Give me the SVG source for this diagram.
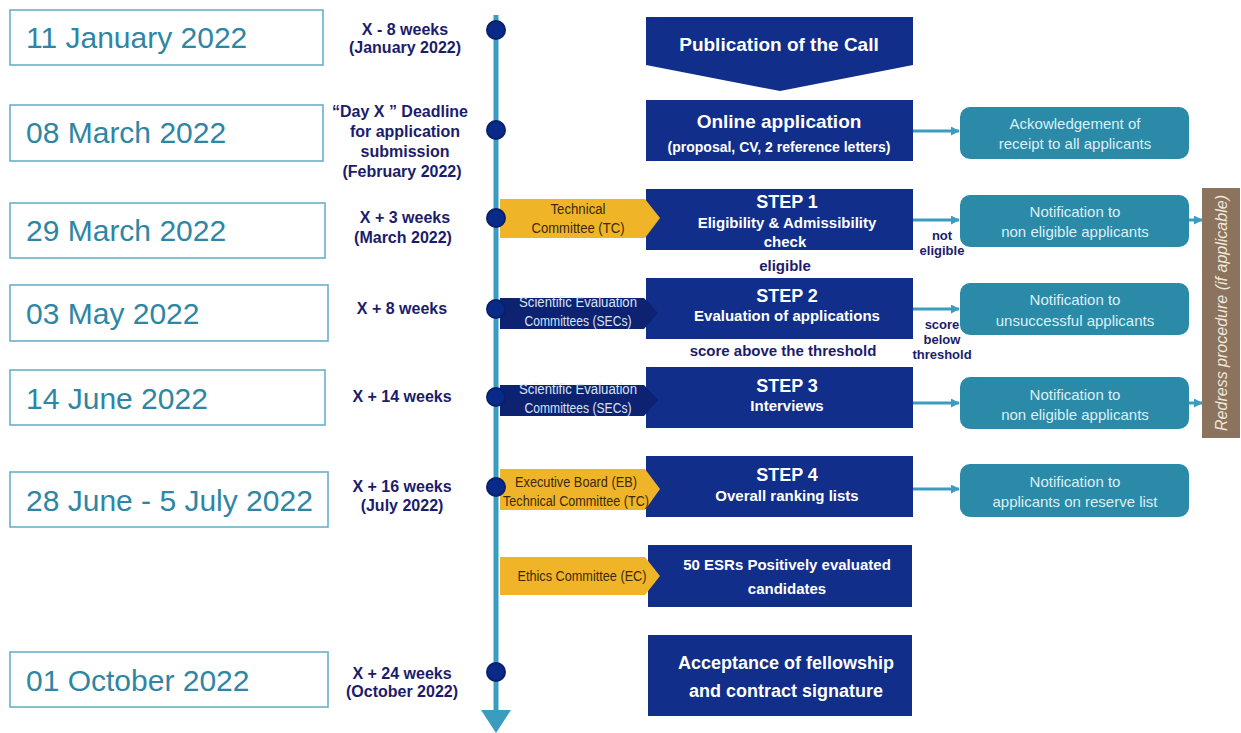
<svg xmlns="http://www.w3.org/2000/svg" width="1241" height="733" viewBox="0 0 1241 733">
<style>
.date{fill:#fff;stroke:#6ab0c8;stroke-width:1.6}
.dt{font-family:"Liberation Sans",Arial,sans-serif;font-size:30px;fill:#2e86a4}
.wk{font-family:"Liberation Sans",Arial,sans-serif;font-size:16px;font-weight:bold;fill:#1c1c6c;text-anchor:middle}
.nv{fill:#102e8a}
.nt{font-family:"Liberation Sans",Arial,sans-serif;font-weight:bold;fill:#fff;text-anchor:middle}
.yl{fill:#f0b429}
.yt{font-family:"Liberation Sans",Arial,sans-serif;font-size:14px;fill:#3a2a0a;text-anchor:middle}
.sc{fill:#0d2270}
.st{font-family:"Liberation Sans",Arial,sans-serif;font-size:14px;fill:#d6e4f7;text-anchor:middle}
.tb{fill:#2a8aa8}
.tt{font-family:"Liberation Sans",Arial,sans-serif;font-size:15px;fill:#dcf0f6;text-anchor:middle}
.lb{font-family:"Liberation Sans",Arial,sans-serif;font-weight:bold;fill:#1c1c6c;text-anchor:middle}
.cn{stroke:#3a9dbf;stroke-width:3;fill:none}
.dot{fill:#0a2a8a;stroke:#08206a;stroke-width:2}
</style>
<defs>
<marker id="ah" viewBox="0 0 10 10" refX="9" refY="5" markerWidth="3" markerHeight="3" orient="auto"><path d="M0,0 L10,5 L0,10 z" fill="#3a9dbf"/></marker>
</defs>
<rect width="1241" height="733" fill="#fff"/>

<g id="dates">
<g id="d1"><rect class="date" x="10" y="10" width="313" height="55"/><text class="dt" x="26" y="48">11 January 2022</text></g>
<g id="d2"><rect class="date" x="10" y="105" width="313" height="56"/><text class="dt" x="26" y="143">08 March 2022</text></g>
<g id="d3"><rect class="date" x="10" y="203" width="315" height="55"/><text class="dt" x="26" y="241">29 March 2022</text></g>
<g id="d4"><rect class="date" x="10" y="285" width="318" height="56"/><text class="dt" x="26" y="324">03 May 2022</text></g>
<g id="d5"><rect class="date" x="10" y="370" width="315" height="55"/><text class="dt" x="26" y="409">14 June 2022</text></g>
<g id="d6"><rect class="date" x="10" y="472" width="318" height="55"/><text class="dt" x="26" y="511">28 June - 5 July 2022</text></g>
<g id="d7"><rect class="date" x="10" y="652" width="318" height="55"/><text class="dt" x="26" y="691">01 October 2022</text></g>
</g>

<g id="weeks">
<text class="wk" x="405" y="35">X - 8 weeks</text>
<text class="wk" x="405" y="53">(January 2022)</text>
<text class="wk" x="400" y="117">“Day X ” Deadline</text>
<text class="wk" x="405" y="137">for application</text>
<text class="wk" x="405" y="157">submission</text>
<text class="wk" x="402" y="177">(February 2022)</text>
<text class="wk" x="405" y="223">X + 3 weeks</text>
<text class="wk" x="403" y="243">(March 2022)</text>
<text class="wk" x="402" y="314">X + 8 weeks</text>
<text class="wk" x="402" y="402">X + 14 weeks</text>
<text class="wk" x="402" y="492">X + 16 weeks</text>
<text class="wk" x="402" y="511">(July 2022)</text>
<text class="wk" x="402" y="679">X + 24 weeks</text>
<text class="wk" x="402" y="697">(October 2022)</text>
</g>

<g id="timeline">
<line x1="496" y1="15" x2="496" y2="714" stroke="#3a9dbf" stroke-width="5"/>
<polygon points="481,710 511,710 496,733" fill="#3a9dbf"/>
</g>

<g id="connectors">
<line class="cn" x1="913" y1="131" x2="959" y2="131" marker-end="url(#ah)"/>
<line class="cn" x1="913" y1="220" x2="959" y2="220" marker-end="url(#ah)"/>
<line class="cn" x1="913" y1="309" x2="959" y2="309" marker-end="url(#ah)"/>
<line class="cn" x1="913" y1="403" x2="959" y2="403" marker-end="url(#ah)"/>
<line class="cn" x1="913" y1="489" x2="959" y2="489" marker-end="url(#ah)"/>
<line class="cn" x1="1189" y1="220" x2="1202" y2="220" marker-end="url(#ah)"/>
<line class="cn" x1="1189" y1="403" x2="1202" y2="403" marker-end="url(#ah)"/>
</g>

<g id="pub"><polygon class="nv" points="646,17 913,17 913,65 780,91 646,65"/><text class="nt" x="779" y="51" font-size="19">Publication of the Call</text></g>
<g id="online"><rect class="nv" x="646" y="100" width="267" height="61"/><text class="nt" x="779" y="128" font-size="19">Online application</text><text class="nt" x="779" y="152" font-size="14">(proposal, CV, 2 reference letters)</text></g>
<g id="step1"><rect class="nv" x="646" y="189" width="267" height="61"/><text class="nt" x="787" y="208" font-size="18">STEP 1</text><text class="nt" x="787" y="228" font-size="15">Eligibility &amp; Admissibility</text><text class="nt" x="785" y="247" font-size="15">check</text></g>
<g id="step2"><rect class="nv" x="646" y="278" width="267" height="61"/><text class="nt" x="787" y="302" font-size="18">STEP 2</text><text class="nt" x="787" y="321" font-size="15">Evaluation of applications</text></g>
<g id="step3"><rect class="nv" x="646" y="367" width="267" height="61"/><text class="nt" x="787" y="392" font-size="18">STEP 3</text><text class="nt" x="787" y="411" font-size="15">Interviews</text></g>
<g id="step4"><rect class="nv" x="646" y="456" width="267" height="61"/><text class="nt" x="787" y="481" font-size="18">STEP 4</text><text class="nt" x="787" y="501" font-size="15">Overall ranking lists</text></g>
<g id="esrs"><rect class="nv" x="648" y="545" width="264" height="62"/><text class="nt" x="787" y="570" font-size="15">50 ESRs Positively evaluated</text><text class="nt" x="787" y="594" font-size="15">candidates</text></g>
<g id="accept"><rect class="nv" x="648" y="635" width="264" height="81"/><text class="nt" x="786" y="669" font-size="18">Acceptance of fellowship</text><text class="nt" x="786" y="697" font-size="18">and contract signature</text></g>

<g id="tag-tc"><polygon class="yl" points="500,199 645,199 660,218 645,238 500,238"/><text class="yt" x="578" y="214" textLength="55" lengthAdjust="spacingAndGlyphs">Technical</text><text class="yt" x="578" y="233" textLength="93" lengthAdjust="spacingAndGlyphs">Committee (TC)</text></g>
<g id="tag-sec2"><polygon class="sc" points="500,298 644,298 658,313 644,329 500,329"/><text class="st" x="578" y="307" textLength="118" lengthAdjust="spacingAndGlyphs">Scientific Evaluation</text><text class="st" x="578" y="326" textLength="107" lengthAdjust="spacingAndGlyphs">Committees (SECs)</text></g>
<g id="tag-sec3"><polygon class="sc" points="500,385 644,385 658,400 644,416 500,416"/><text class="st" x="578" y="394" textLength="118" lengthAdjust="spacingAndGlyphs">Scientific Evaluation</text><text class="st" x="578" y="413" textLength="107" lengthAdjust="spacingAndGlyphs">Committees (SECs)</text></g>
<g id="tag-eb"><polygon class="yl" points="500,469 645,469 660,489 645,510 500,510"/><text class="yt" x="576" y="487" textLength="122" lengthAdjust="spacingAndGlyphs">Executive Board (EB)</text><text class="yt" x="576" y="506" textLength="146" lengthAdjust="spacingAndGlyphs">Technical Committee (TC)</text></g>
<g id="tag-ec"><polygon class="yl" points="500,557 645,557 660,576 645,595 500,595"/><text class="yt" x="582" y="581" textLength="129" lengthAdjust="spacingAndGlyphs">Ethics Committee (EC)</text></g>

<g id="dots">
<circle class="dot" cx="496" cy="30" r="9"/>
<circle class="dot" cx="496" cy="130" r="9"/>
<circle class="dot" cx="496" cy="218" r="9"/>
<circle class="dot" cx="496" cy="309" r="9"/>
<circle class="dot" cx="496" cy="397" r="9"/>
<circle class="dot" cx="496" cy="487" r="9"/>
<circle class="dot" cx="496" cy="672" r="9"/>
</g>

<g id="labels">
<text class="lb" x="785" y="271" font-size="15">eligible</text>
<text class="lb" x="783" y="356" font-size="15">score above the  threshold</text>
<text class="lb" x="942" y="240" font-size="13">not</text>
<text class="lb" x="942" y="255" font-size="13">eligible</text>
<text class="lb" x="942" y="329" font-size="13">score</text>
<text class="lb" x="942" y="344" font-size="13">below</text>
<text class="lb" x="942" y="359" font-size="13">threshold</text>
</g>

<g id="r1"><rect class="tb" x="960" y="107" width="229" height="52" rx="10"/><text class="tt" x="1075" y="129">Ackowledgement of</text><text class="tt" x="1075" y="149">receipt to all applicants</text></g>
<g id="r2"><rect class="tb" x="960" y="195" width="229" height="52" rx="10"/><text class="tt" x="1075" y="217">Notification to</text><text class="tt" x="1075" y="237">non eligible applicants</text></g>
<g id="r3"><rect class="tb" x="960" y="283" width="229" height="52" rx="10"/><text class="tt" x="1075" y="305">Notification to</text><text class="tt" x="1075" y="326">unsuccessful applicants</text></g>
<g id="r4"><rect class="tb" x="960" y="377" width="229" height="52" rx="10"/><text class="tt" x="1075" y="400">Notification to</text><text class="tt" x="1075" y="420">non eligible applicants</text></g>
<g id="r5"><rect class="tb" x="960" y="464" width="229" height="53" rx="10"/><text class="tt" x="1075" y="487">Notification to</text><text class="tt" x="1075" y="507">applicants on reserve list</text></g>

<g id="redress"><rect x="1202" y="188" width="38" height="250" fill="#8b735d"/><text x="0" y="0" transform="translate(1227,313) rotate(-90)" font-family="'Liberation Sans',Arial,sans-serif" font-size="17" font-style="italic" fill="#efe6dc" text-anchor="middle" textLength="236" lengthAdjust="spacingAndGlyphs">Redress procedure (if applicable)</text></g>
</svg>
